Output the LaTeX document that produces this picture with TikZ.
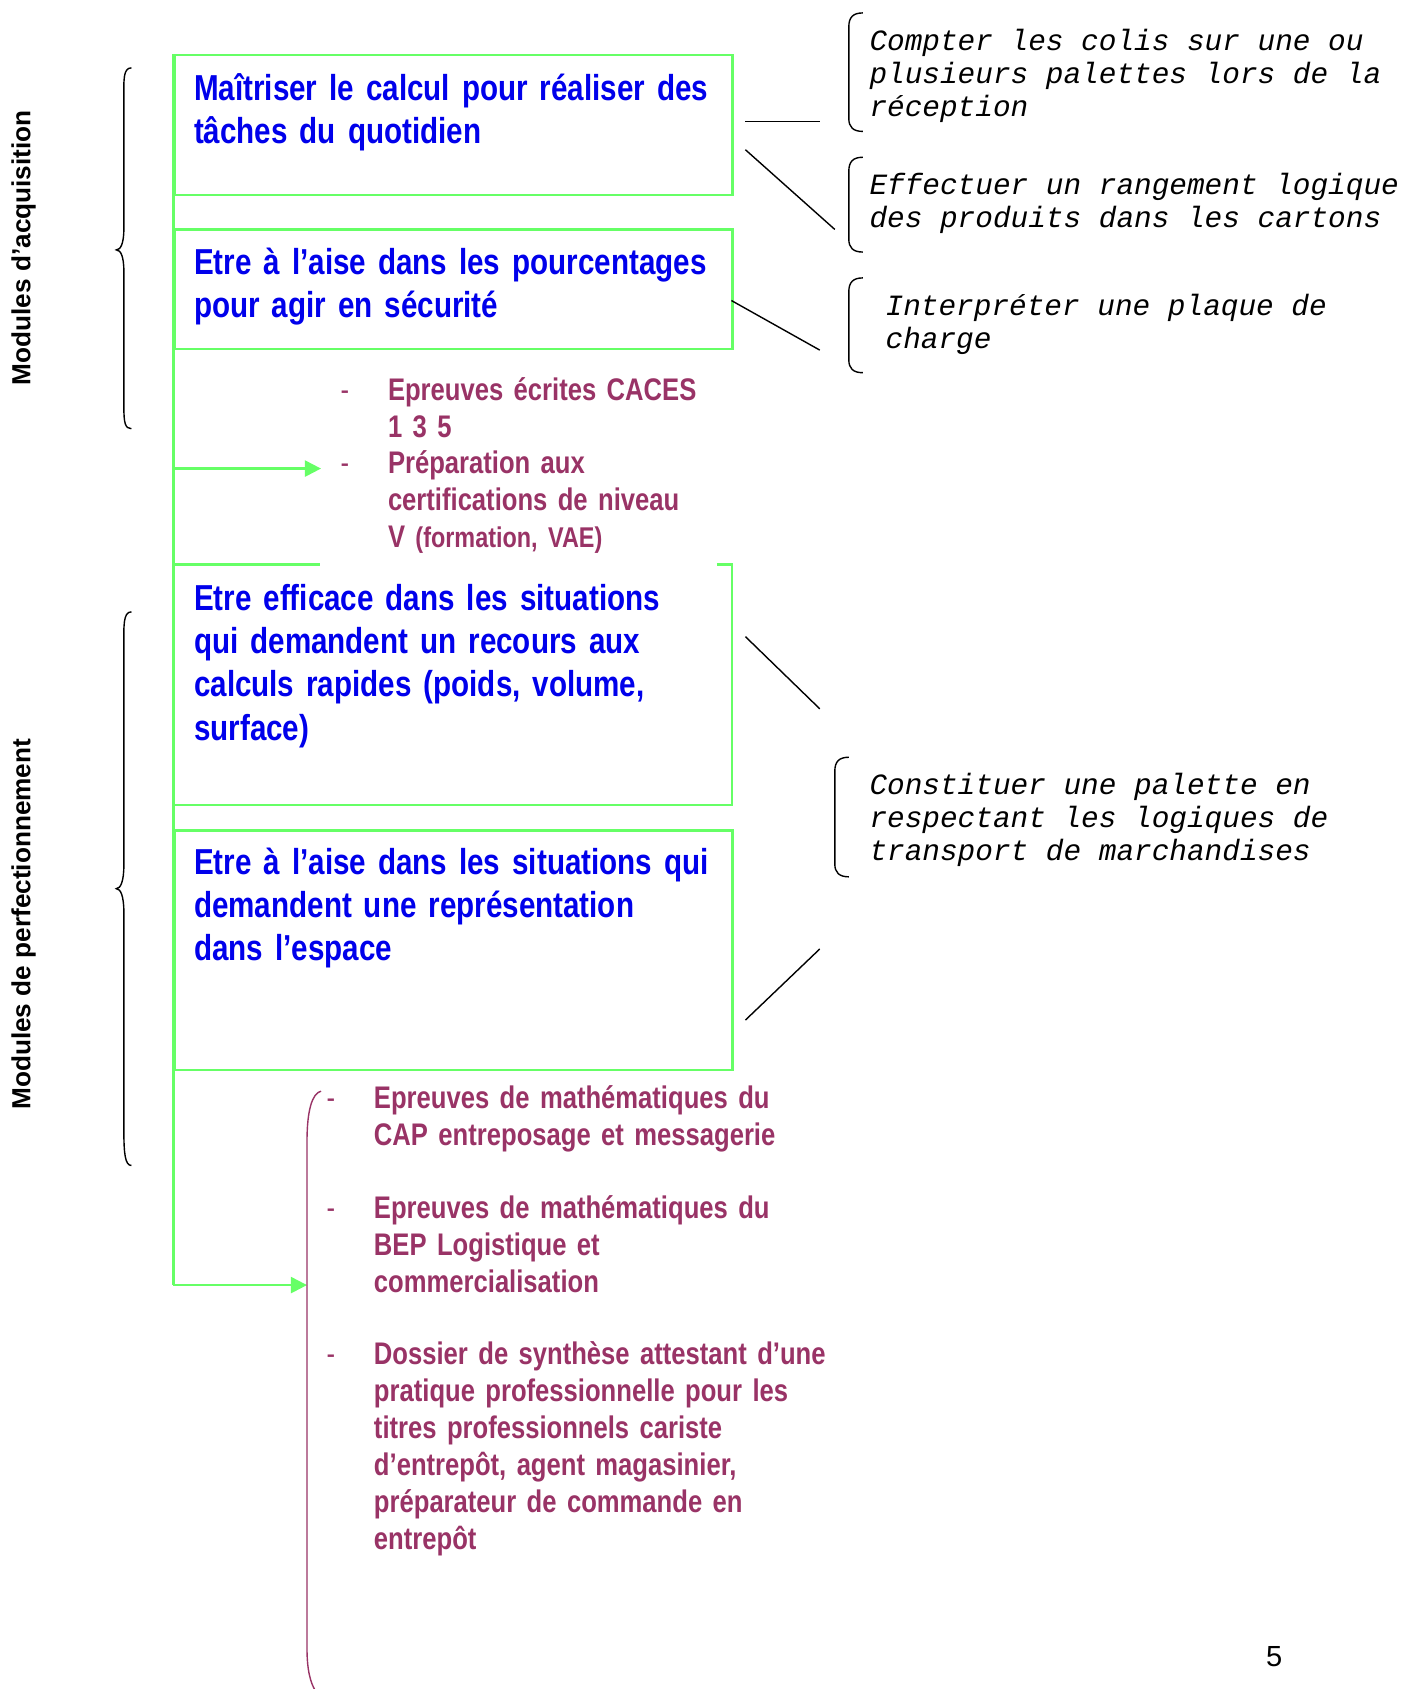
\documentclass[tikz,border=0pt]{standalone}
\usepackage{fontspec}
\setmainfont{Liberation Sans}
\newfontfamily\narrowfont[FakeStretch=0.82]{Liberation Sans}
\newfontfamily\monofont[Kerning=Off,Ligatures=NoCommon]{Liberation Mono}
\newcommand{\monospaces}{\spaceskip=16.38pt\relax}
\usetikzlibrary{arrows.meta}
\definecolor{boxgreen}{RGB}{102,255,102}
\definecolor{titleblue}{RGB}{0,0,235}
\definecolor{plum}{RGB}{153,51,102}
\tikzset{
  greenline/.style={draw=boxgreen, line width=2pt},
  conn/.style={draw=black, line width=1.3pt},
  bracketline/.style={draw=black, line width=1.3pt},
  boxframe/.style={greenline, minimum width=518pt, anchor=north west, inner sep=0pt},
  bluetext/.style={anchor=base west, inner sep=0pt, text width=620pt, align=left,
    font=\narrowfont\bfseries\fontsize{33.5}{40}\selectfont, text=titleblue},
  plumtext/.style={anchor=base west, inner sep=0pt, text width=560pt, align=left,
    font=\narrowfont\bfseries\fontsize{29}{34.3}\selectfont, text=plum},
  monotext/.style={anchor=base west, inner sep=0pt, text width=600pt, align=left,
    font=\monofont\itshape\fontsize{27.3}{30.5}\selectfont,
    execute at begin node=\monospaces},
  sidelabel/.style={rotate=90, inner sep=0pt, font=\bfseries\fontsize{24.3}{28}\selectfont},
  greenarrow/.style={greenline, -{Triangle[length=15pt,width=15pt]}},
}
\newcommand{\dashitem}{\llap{\mdseries -\hspace{36pt}}}
\begin{document}
\begin{tikzpicture}[x=1pt,y=-1pt]
\useasboundingbox[fill=white] (0,0) rectangle (1315,1568);

% side labels
\node[sidelabel] (lab1) at (22,230) {Modules d’acquisition};
\node[sidelabel] (lab2) at (22,858) {Modules de perfectionnement};

% braces
\draw[bracketline] (122,63) .. controls (114,63) and (115,75) .. (115,92) -- (115,212)
  .. controls (115,226) and (112,232) .. (108,232) .. controls (112,232) and (115,238) .. (115,252)
  -- (115,378) .. controls (115,392) and (116,398) .. (122,398);
\draw[bracketline] (122,568) .. controls (114,568) and (115,582) .. (115,600) -- (115,803)
  .. controls (115,818) and (112,825) .. (108,825) .. controls (112,825) and (115,832) .. (115,847)
  -- (115,1050) .. controls (115,1070) and (116,1082) .. (122,1082);

% green boxes
\node[boxframe, minimum height=130pt] (m1) at (161,50) {};
\node[boxframe, minimum height=111pt] (m2) at (161,212) {};
\node[anchor=north west, inner sep=0pt, minimum width=518pt, minimum height=223pt] (m3) at (161,524) {};
\draw[greenline] (m3.north west) -- ++(136,0);
\draw[greenline] (m3.north east) ++(-14,0) -- (m3.north east) -- (m3.south east) -- (m3.south west);
\node[boxframe, minimum height=222pt] (m4) at (161,770) {};

% box texts
\node[bluetext] (t1) at (180,93) {Maîtriser le calcul pour réaliser des\\tâches du quotidien};
\node[bluetext] (t2) at (180,255) {Etre à l’aise dans les pourcentages\\pour agir en sécurité};
\node[bluetext] (t3) at (180,567) {Etre efficace dans les situations\\qui demandent un recours aux\\calculs rapides (poids, volume,\\surface)};
\node[bluetext] (t4) at (180,812) {Etre à l’aise dans les situations qui\\demandent une représentation\\dans l’espace};

% green trunk and arrows
\coordinate (a1s) at (161,435);
\coordinate (a1e) at (298,435);
\coordinate (a2s) at (161,1193);
\coordinate (a2e) at (285,1193);
\draw[greenline] (m1.north west) -- (a2s);
\draw[greenarrow] (a1s) -- (a1e);
\draw[greenarrow] (a2s) -- (a2e);

% top bullet list
\node[plumtext] (p1) at (360,372) {\dashitem Epreuves écrites CACES\\1 3 5};
\node[plumtext] (p2) at (360,440) {\dashitem Préparation aux\\certifications de niveau\\V {\fontsize{26.5}{34.3}\selectfont(formation, VAE)}};

% bottom bracket
\draw[draw=plum, line width=1.3pt] (298,1013) .. controls (290,1015) and (285,1030) .. (285,1060)
  -- (285,1530) .. controls (285,1550) and (288,1562) .. (293,1570);

% bottom bullet list
\node[plumtext] (p3) at (347,1029) {\dashitem Epreuves de mathématiques du\\CAP entreposage et messagerie};
\node[plumtext] (p4) at (347,1131) {\dashitem Epreuves de mathématiques du\\BEP Logistique et\\commercialisation};
\node[plumtext] (p5) at (347,1267) {\dashitem Dossier de synthèse attestant d’une\\pratique professionnelle pour les\\titres professionnels cariste\\d’entrepôt, agent magasinier,\\préparateur de commande en\\entrepôt};

% right brackets
\draw[bracketline] (801,12) .. controls (792,12) and (788,16) .. (788,25) -- (788,110) .. controls (788,118) and (792,122) .. (801,122);
\draw[bracketline] (801,146) .. controls (792,146) and (788,150) .. (788,159) -- (788,222) .. controls (788,230) and (792,234) .. (801,234);
\draw[bracketline] (801,258) .. controls (792,258) and (788,262) .. (788,271) -- (788,334) .. controls (788,342) and (792,346) .. (801,346);
\draw[bracketline] (788,703) .. controls (779,703) and (775,707) .. (775,716) -- (775,802) .. controls (775,810) and (779,814) .. (788,814);

% right texts
\node[monotext] (r1) at (807,47) {Compter les colis sur une ou\\plusieurs palettes lors de la\\réception};
\node[monotext] (r2) at (807,181) {Effectuer un rangement logique\\des produits dans les cartons};
\node[monotext] (r3) at (822,293) {Interpréter une plaque de\\charge};
\node[monotext] (r4) at (807,738) {Constituer une palette en\\respectant les logiques de\\transport de marchandises};

% connector lines
\coordinate (c1a) at (692,113); \coordinate (c1b) at (761,113);
\coordinate (c2a) at (692,139); \coordinate (c2b) at (775,213);
\coordinate (c3a) at (679,279); \coordinate (c3b) at (761,325);
\coordinate (c4a) at (692,591); \coordinate (c4b) at (761,658);
\coordinate (c5a) at (692,947); \coordinate (c5b) at (761,881);
\draw[conn] (c1a) -- (c1b);
\draw[conn] (c2a) -- (c2b);
\draw[conn] (c3a) -- (c3b);
\draw[conn] (c4a) -- (c4b);
\draw[conn] (c5a) -- (c5b);

% page number
\node[anchor=base, inner sep=0pt, font=\fontsize{27}{30}\selectfont] (pg) at (1183,1547) {5};
\end{tikzpicture}
\end{document}
